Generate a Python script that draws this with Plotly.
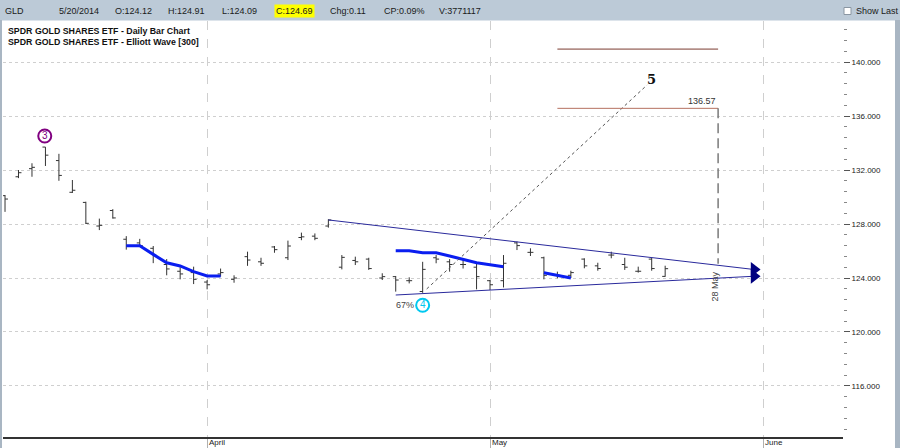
import plotly.graph_objects as go

# ---------------- data ----------------
bar_index = list(range(50))
opens = [130.1, 131.5, 132.1, 133.7, 132.7, 130.35, 129.6, 127.85, 129.0, 126.87,
         126.6, 126.2, 125.0, 124.5, 124.4, 123.7, 124.3, 123.9, 125.58, 125.2,
         126.3, 125.5, 127.0, 127.1, 127.85, 124.8, 125.3, 125.4, 124.0, 124.1,
         123.8, 123.0, 125.5, 125.2, 125.0, 124.8, 123.8, 123.8, 126.6, 125.9,
         125.5, 124.2, 124.2, 125.4, 124.9, 125.7, 125.0, 124.5, 125.4, 124.12]
highs = [130.15, 132.0, 132.5, 133.7, 133.2, 131.26, 129.65, 128.4, 129.1, 127.1,
         126.9, 126.37, 125.4, 124.8, 124.84, 123.85, 124.7, 124.2, 125.95, 125.5,
         126.37, 126.77, 127.36, 127.3, 128.35, 125.7, 125.58, 125.5, 124.35, 124.15,
         124.05, 125.2, 125.7, 125.4, 125.33, 125.1, 123.85, 125.7, 126.7, 126.2,
         125.58, 124.47, 124.54, 125.46, 125.13, 125.95, 125.5, 124.84, 125.5, 124.91]
lows = [128.9, 131.4, 131.5, 132.3, 131.2, 130.3, 128.0, 127.55, 128.4, 126.1,
        126.3, 125.1, 124.2, 123.9, 123.55, 123.16, 124.1, 123.65, 124.9, 124.9,
        125.87, 125.33, 126.8, 126.8, 127.73, 124.64, 124.96, 124.6, 123.85, 122.99,
        123.6, 122.9, 125.09, 124.47, 124.7, 123.16, 123.1, 123.3, 126.07, 125.63,
        123.9, 123.98, 124.0, 124.72, 124.54, 125.46, 124.6, 124.4, 124.54, 124.09]
closes = [129.85, 131.8, 132.2, 133.1, 131.6, 130.5, 128.05, 127.9, 128.45, 126.37,
          126.4, 125.7, 124.67, 124.3, 123.9, 123.5, 124.4, 124.0, 125.33, 125.09,
          126.1, 126.37, 127.05, 126.94, 128.3, 125.53, 125.2, 124.7, 124.1, 123.85,
          123.8, 124.64, 125.4, 125.0, 125.0, 124.1, 123.5, 125.09, 126.4, 125.9,
          124.2, 124.2, 124.4, 124.9, 124.7, 125.7, 124.8, 124.5, 124.7, 124.69]

month_labels = ["April", "May", "June"]
month_pos = [15, 36, 56.27]
y_ticks = [116, 120, 124, 128, 132, 136, 140]

# Elliott wave overlay (blue smoothing segments)
blue1_x = [9, 10, 11, 12, 13, 14, 15, 16]
blue1_y = [126.39, 126.39, 125.75, 125.13, 124.89, 124.47, 124.15, 124.15]
blue2_x = [29, 30, 31, 32, 33, 34, 35, 37]
blue2_y = [126.02, 126.02, 125.87, 125.87, 125.63, 125.38, 125.13, 124.84]
blue3_x = [40, 41, 42]
blue3_y = [124.39, 124.2, 124.0]

# triangle channel
upper_x = [24, 55.6]
upper_y = [128.3, 124.63]
lower_x = [29, 55.6]
lower_y = [122.74, 124.13]

# wave 5 projection
proj_x = [31.3, 47.66]
proj_y = [123.19, 138.3]
wave5_x, wave5_y = 48.0, 138.74
wave3_x, wave3_y = 2.95, 134.52
wave4_x, wave4_y = 31.0, 121.98
pct_x, pct_y = 29.7, 121.98

target_x = [41.0, 52.93]
target_hi = 140.96
target_val = 136.57
target_low_end = 125.05
date_label_x, date_label_y = 52.63, 123.37

toolbar_items = [("GLD", 3), ("5/20/2014", 57), ("O:124.12", 113), ("H:124.91", 166),
                 ("L:124.09", 220), ("C:124.69", 274), ("Chg:0.11", 328),
                 ("CP:0.09%", 382), ("V:3771117", 437)]
legend_lines = ["SPDR GOLD SHARES ETF - Daily Bar Chart",
                "SPDR GOLD SHARES ETF - Elliott Wave [300]"]

# ---------------- layout helpers ----------------
W, H = 900, 448
L, R, T, B = 3, 843, 21, 437
FONT = "Liberation Sans"


def px(x):
    return (x - L) / (R - L)


def py(y):
    return (B - y) / (B - T)


fig = go.Figure()

fig.add_trace(go.Ohlc(
    x=bar_index, open=opens, high=highs, low=lows, close=closes,
    increasing=dict(line=dict(color="#333333", width=1)),
    decreasing=dict(line=dict(color="#333333", width=1)),
    tickwidth=0.22, showlegend=False, hoverinfo="skip"))

for xs, ys in [(blue1_x, blue1_y), (blue2_x, blue2_y), (blue3_x, blue3_y)]:
    fig.add_trace(go.Scatter(x=xs, y=ys, mode="lines",
                             line=dict(color="#0a1ef0", width=3),
                             showlegend=False, hoverinfo="skip"))

for xs, ys in [(upper_x, upper_y), (lower_x, lower_y)]:
    fig.add_trace(go.Scatter(x=xs, y=ys, mode="lines",
                             line=dict(color="#2a2a9c", width=1),
                             showlegend=False, hoverinfo="skip"))

fig.add_trace(go.Scatter(x=[upper_x[1], lower_x[1]], y=[upper_y[1], lower_y[1]],
                         mode="markers",
                         marker=dict(symbol="triangle-right", size=13, color="#000080"),
                         showlegend=False, hoverinfo="skip"))

fig.add_trace(go.Scatter(x=proj_x, y=proj_y, mode="lines",
                         line=dict(color="#555555", width=1, dash="dot"),
                         showlegend=False, hoverinfo="skip"))

# target lines
fig.add_trace(go.Scatter(x=target_x, y=[target_hi, target_hi], mode="lines",
                         line=dict(color="#7a3b30", width=1),
                         showlegend=False, hoverinfo="skip"))
fig.add_trace(go.Scatter(x=target_x, y=[target_val, target_val], mode="lines",
                         line=dict(color="#b5705f", width=1),
                         showlegend=False, hoverinfo="skip"))
fig.add_trace(go.Scatter(x=[target_x[1], target_x[1]], y=[target_val, target_low_end],
                         mode="lines",
                         line=dict(color="#7a7a7a", width=1.5, dash="10px,5px"),
                         showlegend=False, hoverinfo="skip"))

# wave markers
fig.add_trace(go.Scatter(x=[wave3_x], y=[wave3_y], mode="markers+text", text=["3"],
                         textposition="middle center",
                         textfont=dict(family=FONT, size=10, color="#800080"),
                         marker=dict(symbol="circle-open", size=13, color="#800080",
                                     line=dict(width=2)),
                         showlegend=False, hoverinfo="skip"))
fig.add_trace(go.Scatter(x=[wave4_x], y=[wave4_y], mode="markers+text", text=["4"],
                         textposition="middle center",
                         textfont=dict(family=FONT, size=10, color="#00c8f0"),
                         marker=dict(symbol="circle-open", size=13, color="#00c8f0",
                                     line=dict(width=2)),
                         showlegend=False, hoverinfo="skip"))

ann = []
ann.append(dict(x=pct_x, y=pct_y, text="67%", showarrow=False, xref="x", yref="y",
                font=dict(family=FONT, size=9, color="#444444")))
ann.append(dict(x=wave5_x, y=wave5_y, text="<b>5</b>", showarrow=False, xref="x", yref="y",
                font=dict(family="DejaVu Serif", size=13, color="#111111")))
ann.append(dict(x=target_x[1], y=target_val, text="136.57", showarrow=False, xref="x",
                yref="y", xanchor="right", yanchor="bottom", yshift=0,
                font=dict(family=FONT, size=9, color="#333333")))
ann.append(dict(x=date_label_x, y=date_label_y, text="28 May", showarrow=False, xref="x",
                yref="y", textangle=-90,
                font=dict(family=FONT, size=9, color="#444444")))
for lab, pos in zip(month_labels, month_pos):
    ann.append(dict(x=pos, y=py(442.5), text=lab, showarrow=False, xref="x", yref="paper",
                    xanchor="left", yanchor="middle", xshift=0,
                    font=dict(family=FONT, size=8, color="#222222")))

# toolbar
shapes = []
shapes.append(dict(type="rect", xref="paper", yref="paper", x0=px(0), x1=px(900),
                   y0=py(20.5), y1=py(0), fillcolor="#bccad7",
                   line=dict(width=0), layer="above"))
shapes.append(dict(type="rect", xref="paper", yref="paper", x0=px(0), x1=px(2),
                   y0=py(448), y1=py(20), fillcolor="#a9b6c3",
                   line=dict(width=0), layer="above"))
shapes.append(dict(type="rect", xref="paper", yref="paper", x0=px(895), x1=px(900),
                   y0=py(448), y1=py(20), fillcolor="#a9b6c3",
                   line=dict(width=0), layer="above"))
shapes.append(dict(type="rect", xref="paper", yref="paper", x0=px(844), x1=px(851),
                   y0=py(14.5), y1=py(7.5), fillcolor="#ffffff",
                   line=dict(width=1, color="#8a96a2"), layer="above"))
for txt, xpos in toolbar_items:
    item = dict(x=px(xpos), y=py(11.5), text=txt, showarrow=False, xref="paper",
                yref="paper", xanchor="left", yanchor="middle",
                font=dict(family=FONT, size=9, color="#1a1a1a"))
    if txt.startswith("C:"):
        item["bgcolor"] = "#ffff00"
        item["borderpad"] = 1
    ann.append(item)
ann.append(dict(x=px(854), y=py(11.5), text="Show Last", showarrow=False, xref="paper",
                yref="paper", xanchor="left", yanchor="middle",
                font=dict(family=FONT, size=9, color="#1a1a1a")))
for i, line in enumerate(legend_lines):
    ann.append(dict(x=px(6), y=py(31.5 + 10 * i), text="<b>" + line + "</b>",
                    showarrow=False, xref="paper", yref="paper", xanchor="left",
                    yanchor="middle", font=dict(family=FONT, size=8.8, color="#111111")))

fig.update_layout(
    width=W, height=H,
    margin=dict(l=L, r=W - R, t=T, b=H - B, pad=0, autoexpand=False),
    paper_bgcolor="#ffffff", plot_bgcolor="#ffffff",
    showlegend=False,
    annotations=ann, shapes=shapes,
    xaxis=dict(range=[-0.15, 62.2], tickvals=month_pos, showticklabels=False,
               showgrid=True, gridcolor="#cfcfcf", griddash="dash", gridwidth=1,
               ticks="outside", ticklen=11, tickcolor="#b0b0b0",
               showline=True, linecolor="#333333", linewidth=1.5, automargin=False,
               zeroline=False, rangeslider=dict(visible=False), fixedrange=True),
    yaxis=dict(range=[112.22, 143.04], side="right", tickvals=y_ticks,
               tickformat=".3f", showgrid=True, gridcolor="#cfcfcf", griddash="dot",
               ticks="outside", ticklen=6, tickcolor="#555555", automargin=False,
               minor=dict(dtick=0.8, tick0=0, ticks="outside", ticklen=3,
                          tickcolor="#888888", showgrid=False),
               tickfont=dict(family=FONT, size=8, color="#222222"),
               zeroline=False, showline=False, fixedrange=True),
)

fig.write_html("out.html",
               config={"displayModeBar": False},
               post_script="document.body.style.margin='0';document.body.style.overflow='hidden';")
